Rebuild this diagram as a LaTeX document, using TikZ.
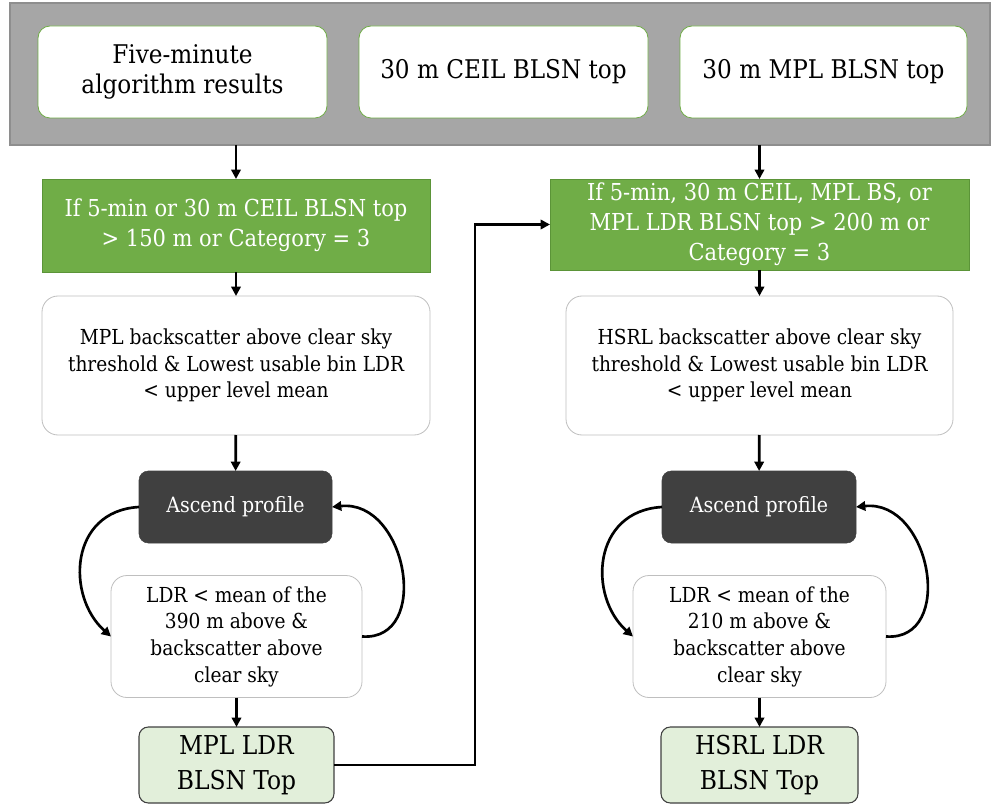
\documentclass[tikz,border=0pt]{standalone}
\usepackage{fontspec}
\setmainfont{DejaVu Serif Condensed}
\usetikzlibrary{arrows.meta,calc}
\definecolor{bannergray}{HTML}{A6A6A6}
\definecolor{bannerline}{HTML}{8E8E8E}
\definecolor{leafgreen}{HTML}{70AD47}
\definecolor{leafline}{HTML}{5B9438}
\definecolor{darkbox}{HTML}{404040}
\definecolor{palegreen}{HTML}{E2EFDA}
\definecolor{softline}{HTML}{BFBFBF}
\begin{document}
\begin{tikzpicture}[x=0.75pt,y=-0.75pt,
  every node/.style={inner sep=0pt,outer sep=0pt,align=center},
  banner/.style={draw=bannerline,fill=bannergray,line width=0.8pt},
  inbox/.style={draw=leafgreen,fill=white,rounded corners=9pt,line width=0.6pt,
    font=\fontsize{19.3}{23}\selectfont},
  cond/.style={draw=leafline,fill=leafgreen,line width=0.6pt,text=white,
    font=\fontsize{17.5}{22.5}\selectfont},
  test/.style={draw=softline,fill=white,rounded corners=12pt,line width=0.6pt,
    font=\fontsize{15.5}{20}\selectfont},
  loopbox/.style={draw=darkbox,fill=darkbox,rounded corners=7pt,text=white,
    font=\fontsize{15.8}{20}\selectfont},
  result/.style={draw=darkbox,fill=palegreen,rounded corners=7pt,line width=0.8pt,
    font=\fontsize{19.5}{26}\selectfont},
  arr/.style={line width=2pt,-{Triangle[length=7pt,width=7pt]}},
  link/.style={line width=2pt}]
\useasboundingbox (0,0) rectangle (992,805);

% input banner
\node[banner,minimum width={980*0.75pt},minimum height={142*0.75pt}] (banner) at (500,74) {};
\node[inbox,minimum width={289*0.75pt},minimum height={92*0.75pt}] (t1) at (182.5,72) {Five-minute\\algorithm results};
\node[inbox,minimum width={289*0.75pt},minimum height={92*0.75pt}] (t2) at (503.5,72) {30 m CEIL BLSN top};
\node[inbox,minimum width={287*0.75pt},minimum height={92*0.75pt}] (t3) at (823.5,72) {30 m MPL BLSN top};

% MPL column
\node[cond,minimum width={388*0.75pt},minimum height={93*0.75pt}] (g1) at (236,225.5) {If 5-min or 30 m CEIL BLSN top\\> 150 m or Category = 3};
\node[test,minimum width={388*0.75pt},minimum height={139*0.75pt}] (w1) at (236,365.5) {MPL backscatter above clear sky\\threshold \& Lowest usable bin LDR\\< upper level mean};
\node[loopbox,minimum width={193*0.75pt},minimum height={72*0.75pt}] (a1) at (235.5,507) {Ascend profile};
\node[test,minimum width={251*0.75pt},minimum height={122*0.75pt}] (l1) at (236.5,636.5) {LDR < mean of the\\390 m above \&\\backscatter above\\clear sky};
\node[result,minimum width={195*0.75pt},minimum height={76*0.75pt}] (r1) at (236.5,765) {MPL LDR\\BLSN Top};

% HSRL column
\node[cond,minimum width={419*0.75pt},minimum height={91*0.75pt}] (g2) at (759.5,224.5) {If 5-min, 30 m CEIL, MPL BS, or\\MPL LDR BLSN top > 200 m or\\Category = 3};
\node[test,minimum width={387*0.75pt},minimum height={139*0.75pt}] (w2) at (759.5,365.5) {HSRL backscatter above clear sky\\threshold \& Lowest usable bin LDR\\< upper level mean};
\node[loopbox,minimum width={194*0.75pt},minimum height={72*0.75pt}] (a2) at (759,507) {Ascend profile};
\node[test,minimum width={253*0.75pt},minimum height={122*0.75pt}] (l2) at (759.5,636.5) {LDR < mean of the\\210 m above \&\\backscatter above\\clear sky};
\node[result,minimum width={197*0.75pt},minimum height={76*0.75pt}] (r2) at (759.5,765) {HSRL LDR\\BLSN Top};

% straight flow
\draw[arr] (g1.north |- banner.south) -- (g1.north);
\draw[arr] (g1) -- (w1);
\draw[arr] (w1) -- (a1);
\draw[arr] (l1) -- (r1);
\draw[arr] (g2.north |- banner.south) -- (g2.north);
\draw[arr] (g2) -- (w2);
\draw[arr] (w2) -- (a2);
\draw[arr] (l2) -- (r2);

% ascend loops
\draw[arr] (a1.west) .. controls +(-70,4) and +(-45,-40) .. (l1.west);
\draw[arr] (l1.east) .. controls +(70,5) and +(75,-8) .. (a1.east);
\draw[arr] (a2.west) .. controls +(-70,4) and +(-45,-40) .. (l2.west);
\draw[arr] (l2.east) .. controls +(70,5) and +(75,-8) .. (a2.east);

% MPL result feeds the HSRL condition
\coordinate (bend) at (475,765);
\draw[arr] (r1.east) -- (bend) |- (g2.west);
\end{tikzpicture}
\end{document}
